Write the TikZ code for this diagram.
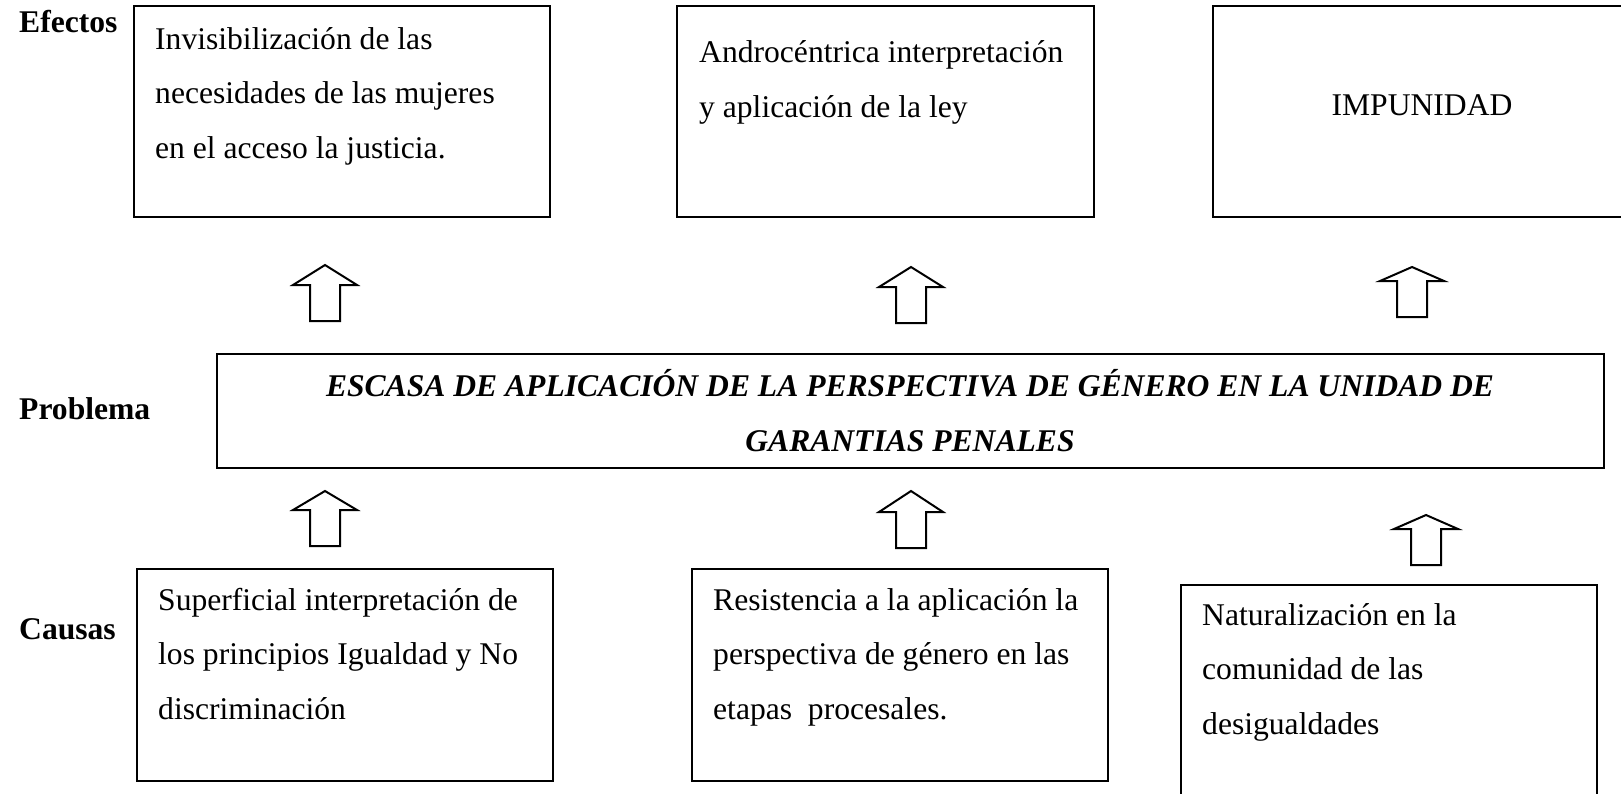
\documentclass[tikz,border=0pt]{standalone}
\usepackage{fontspec}
\setmainfont{Liberation Serif}
\begin{document}
\begin{tikzpicture}[x=1pt,y=-1pt,
  box/.style={draw, line width=2pt, inner sep=0pt},
  thinbox/.style={draw, line width=1.2pt, inner sep=0pt},
  txt/.style={inner sep=0pt, align=left, font=\fontsize{31.6pt}{54.5pt}\selectfont},
  lbl/.style={inner sep=0pt, anchor=base west, font=\fontsize{31.6pt}{54.5pt}\selectfont\bfseries},
  ptxt/.style={inner sep=0pt, align=center, font=\fontsize{31.6pt}{55pt}\selectfont\bfseries\itshape},
  arrowline/.style={draw, line width=2pt, line join=miter, fill=white},
  uparrow/.pic={\path[arrowline] (-15,0) -- (-15,-36) -- (-32,-36) -- (0,-#1) -- (32,-36) -- (15,-36) -- (15,0) -- cycle;}
]
\useasboundingbox (0,0) rectangle (1621,793);
\fill[white] (0,0) rectangle (1621,793);

% labels
\node[lbl] (lef) at (19,32) {Efectos};
\node[lbl] (lpr) at (19,419) {Problema};
\node[lbl] (lca) at (19,639) {Causas};

% effect boxes
\node[box, minimum width=416pt, minimum height=211pt] (e1) at (342,111.5) {};
\node[box, minimum width=417pt, minimum height=211pt] (e2) at (885.5,111.5) {};
\node[box, minimum width=420pt, minimum height=211pt] (e3) at (1423,111.5) {};
\node[txt, anchor=base west] (te1) at (155,158) {Invisibilización de las\\necesidades de las mujeres\\en el acceso la justicia.};
\node[txt, anchor=base west] (te2) at (699,117) {Androcéntrica interpretación\\y aplicación de la ley};
\node[txt, anchor=base] (te3) at (1422,115) {IMPUNIDAD};

% problem box
\node[thinbox, minimum width=1387pt, minimum height=114pt] (pr) at (910.5,411) {};
\node[ptxt, anchor=base] (tpr) at (910,451) {ESCASA DE APLICACIÓN DE LA PERSPECTIVA DE GÉNERO EN LA UNIDAD DE\\GARANTIAS PENALES};

% cause boxes
\node[box, minimum width=416pt, minimum height=212pt] (c1) at (345,675) {};
\node[box, minimum width=416pt, minimum height=212pt] (c2) at (900,675) {};
\node[box, minimum width=416pt, minimum height=230pt] (c3) at (1389,700) {};
\node[txt, anchor=base west] (tc1) at (158,719) {Superficial interpretación de\\los principios Igualdad y No\\discriminación};
\node[txt, anchor=base west] (tc2) at (713,719) {Resistencia a la aplicación la\\perspectiva de género en las\\etapas\ \ procesales.};
\node[txt, anchor=base west] (tc3) at (1202,734) {Naturalización en la\\comunidad de las\\desigualdades};

% block arrows
\coordinate (a1) at (325,321);
\coordinate (a2) at (911,323);
\coordinate (a3) at (1412,317);
\coordinate (b1) at (325,546);
\coordinate (b2) at (911,548);
\coordinate (b3) at (1426,565);
\pic at (a1) {uparrow=56};
\pic at (a2) {uparrow=56};
\pic at (a3) {uparrow=50};
\pic at (b1) {uparrow=55};
\pic at (b2) {uparrow=57};
\pic at (b3) {uparrow=50};
\end{tikzpicture}
\end{document}
